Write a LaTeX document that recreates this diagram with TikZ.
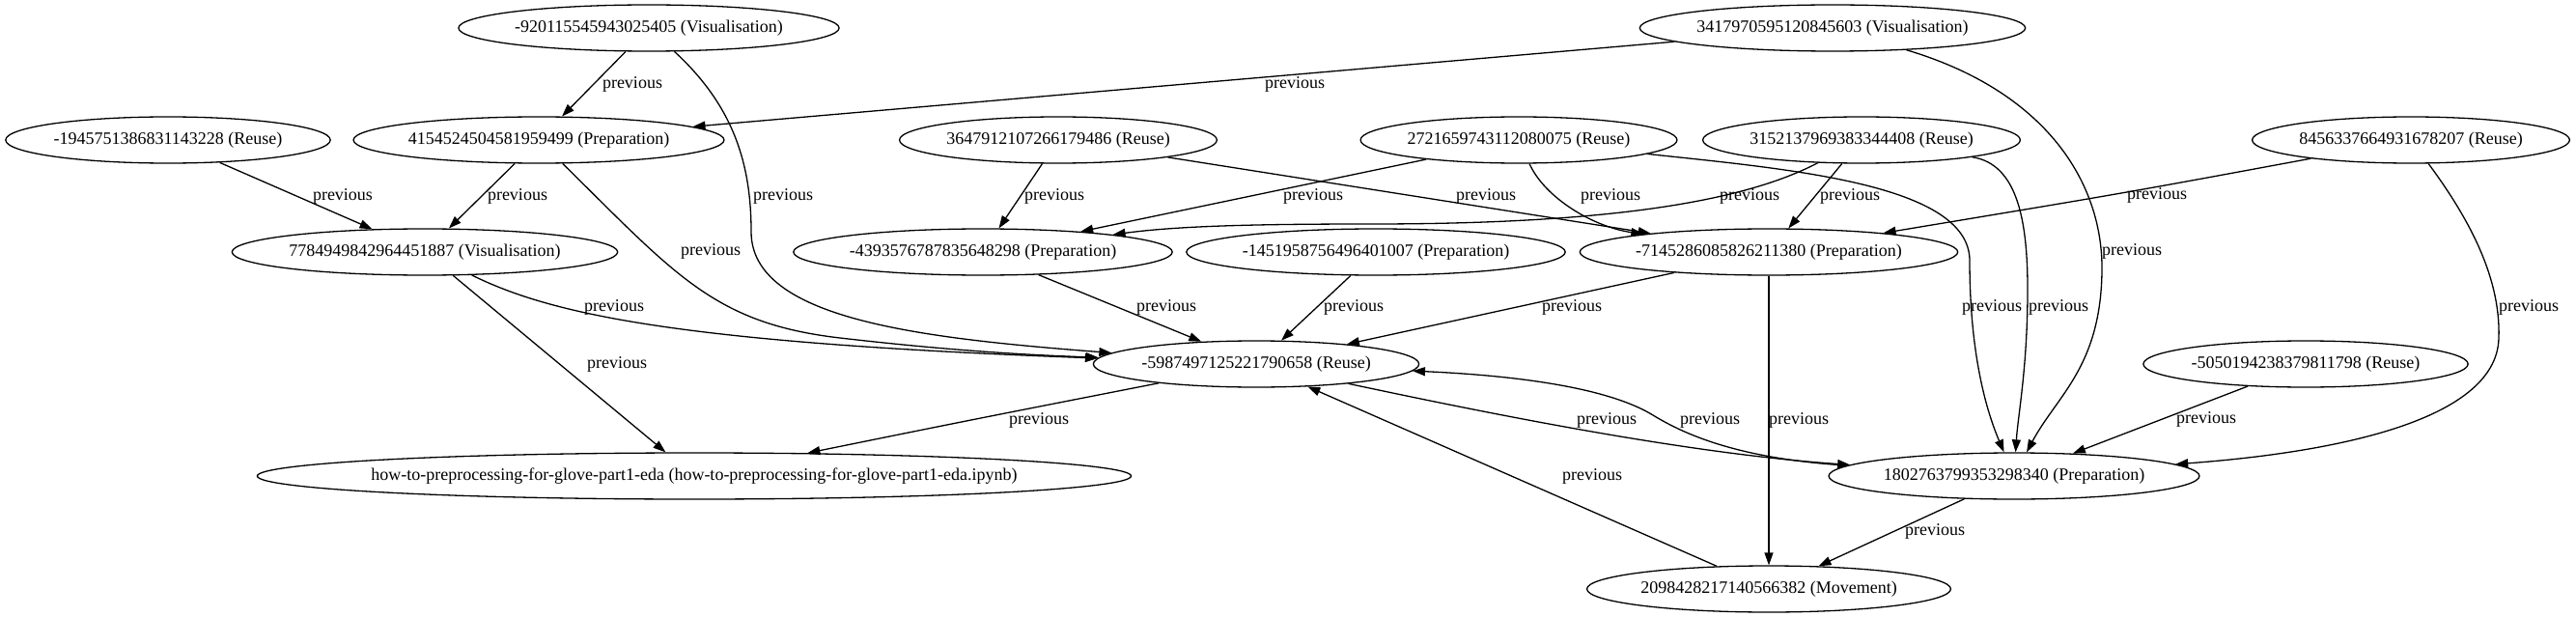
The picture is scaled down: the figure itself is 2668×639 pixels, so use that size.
\documentclass[tikz,border=0pt]{standalone}
\usepackage{fontspec}
\setmainfont{Liberation Serif}
\usepackage{tikz}
\usetikzlibrary{shapes, arrows.meta, positioning}

\begin{document}
\begin{tikzpicture}[x=1pt, y=-1pt,
  stage/.style={ellipse, draw, line width=1.3pt, inner xsep=0.5pt, inner ysep=0pt,
    minimum height=48pt, font=\fontsize{18pt}{21pt}\selectfont},
  lbl/.style={inner sep=0pt, font=\fontsize{18pt}{21pt}\selectfont},
  prev/.style={line width=1.3pt, -{Triangle[length=13pt, width=9pt]}}]
  \useasboundingbox (0,0) rectangle (2668,639);
  % cells
  \node[stage] (vis920) at (672,29) {-920115545943025405 (Visualisation)};
  \node[stage] (vis341) at (1898,29) {3417970595120845603 (Visualisation)};
  \node[stage] (reu194) at (174,145) {-1945751386831143228 (Reuse)};
  \node[stage] (pre415) at (558,145) {4154524504581959499 (Preparation)};
  \node[stage] (reu364) at (1096,145) {3647912107266179486 (Reuse)};
  \node[stage] (reu272) at (1573,145) {2721659743112080075 (Reuse)};
  \node[stage] (reu315) at (1928,145) {3152137969383344408 (Reuse)};
  \node[stage] (reu845) at (2497,145) {8456337664931678207 (Reuse)};
  \node[stage] (vis778) at (440,261) {7784949842964451887 (Visualisation)};
  \node[stage] (pre439) at (1018,261) {-4393576787835648298 (Preparation)};
  \node[stage] (pre145) at (1425,261) {-1451958756496401007 (Preparation)};
  \node[stage] (pre714) at (1832,261) {-7145286085826211380 (Preparation)};
  \node[stage] (reu598) at (1301,377) {-5987497125221790658 (Reuse)};
  \node[stage] (reu505) at (2388,377) {-5050194238379811798 (Reuse)};
  \node[stage, inner xsep=-14.5pt] (nbook) at (719,493) {how-to-preprocessing-for-glove-part1-eda (how-to-preprocessing-for-glove-part1-eda.ipynb)};
  \node[stage] (pre180) at (2086,493) {1802763799353298340 (Preparation)};
  \node[stage] (mov209) at (1832,610) {2098428217140566382 (Movement)};

  % edges
  \draw[prev] (vis920) -- (pre415);
  \draw[prev] (vis920) .. controls (760,110) and (778,170) .. (778,240)
    .. controls (778,330) and (950,350) .. (reu598);
  \draw[prev] (vis341) -- (pre415);
  \draw[prev] (vis341) .. controls (2120,95) and (2178,190) .. (2177,280)
    .. controls (2176,380) and (2130,410) .. (pre180);
  \draw[prev] (reu194) -- (vis778);
  \draw[prev] (pre415) -- (vis778);
  \draw[prev] (pre415) .. controls (700,285) and (740,335) .. (870,350)
    .. controls (1000,365) and (1080,368) .. (reu598);
  \draw[prev] (reu364) -- (pre439);
  \draw[prev] (reu364) -- (pre714);
  \draw[prev] (reu272) -- (pre439);
  \draw[prev] (reu272) .. controls (1600,205) and (1650,235) .. (pre714);
  \draw[prev] (reu272) .. controls (1850,175) and (2040,190) .. (2040,270)
    .. controls (2040,360) and (2055,420) .. (pre180);
  \draw[prev] (reu315) .. controls (1800,212) and (1650,232) .. (1420,232)
    .. controls (1300,232) and (1220,234) .. (pre439);
  \draw[prev] (reu315) -- (pre714);
  \draw[prev] (reu315) .. controls (2090,170) and (2100,230) .. (2100,300)
    .. controls (2100,380) and (2090,430) .. (pre180);
  \draw[prev] (reu845) .. controls (2200,200) .. (pre714);
  \draw[prev] (reu845) .. controls (2560,230) and (2590,290) .. (2588,350)
    .. controls (2586,440) and (2400,470) .. (pre180);
  \draw[prev] (vis778) .. controls (570,325) and (700,355) .. (reu598);
  \draw[prev] (vis778) -- (nbook);
  \draw[prev] (pre439) -- (reu598);
  \draw[prev] (pre145) -- (reu598);
  \draw[prev] (pre714) -- (reu598);
  \draw[prev] (pre714) -- (mov209);
  \draw[prev] (reu598) .. controls (1000,436) .. (nbook);
  \draw[prev] (reu598) .. controls (1550,430) and (1750,470) .. (pre180);
  \draw[prev] (pre180) .. controls (1800,475) and (1745,450) .. (1712,430)
    .. controls (1660,398) and (1550,388) .. (reu598);
  \draw[prev] (mov209) -- (reu598);
  \draw[prev] (reu505) -- (pre180);
  \draw[prev] (pre180) -- (mov209);

  % edge labels
  \node[lbl] (l1) at (655,87) {previous};
  \node[lbl] (l2) at (811,203) {previous};
  \node[lbl] (l3) at (1341,87) {previous};
  \node[lbl] (l4) at (2208,260) {previous};
  \node[lbl] (l5) at (355,203) {previous};
  \node[lbl] (l6) at (536,203) {previous};
  \node[lbl] (l7) at (736,260) {previous};
  \node[lbl] (l8) at (1092,203) {previous};
  \node[lbl] (l9) at (1539,203) {previous};
  \node[lbl] (l10) at (1360,203) {previous};
  \node[lbl] (l11) at (1668,203) {previous};
  \node[lbl] (l12) at (2063,318) {previous};
  \node[lbl] (l13) at (1812,203) {previous};
  \node[lbl] (l14) at (1916,203) {previous};
  \node[lbl] (l15) at (2132,318) {previous};
  \node[lbl] (l16) at (2234,202) {previous};
  \node[lbl] (l17) at (2619,318) {previous};
  \node[lbl] (l18) at (636,318) {previous};
  \node[lbl] (l19) at (639,377) {previous};
  \node[lbl] (l20) at (1208,318) {previous};
  \node[lbl] (l21) at (1402,318) {previous};
  \node[lbl] (l22) at (1628,318) {previous};
  \node[lbl] (l23) at (1863,435) {previous};
  \node[lbl] (l24) at (1076,435) {previous};
  \node[lbl] (l25) at (1664,435) {previous};
  \node[lbl] (l26) at (1771,435) {previous};
  \node[lbl] (l27) at (1649,493) {previous};
  \node[lbl] (l28) at (2285,434) {previous};
  \node[lbl] (l29) at (2004,550) {previous};
\end{tikzpicture}
\end{document}
